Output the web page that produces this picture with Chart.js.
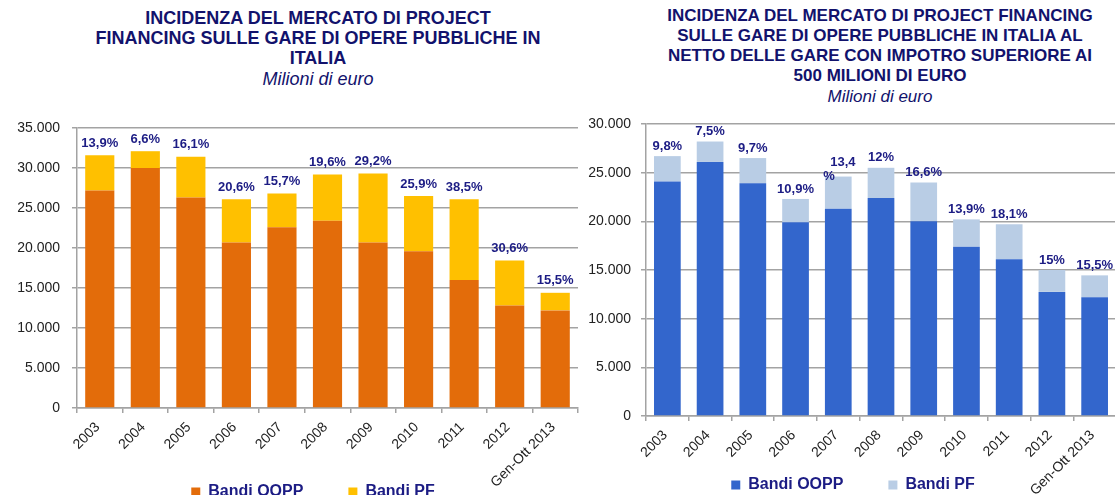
<!DOCTYPE html>
<html>
<head>
<meta charset="utf-8">
<script src="https://cdn.jsdelivr.net/npm/chart.js@4.4.1/dist/chart.umd.min.js"></script>
<style>
  html, body { margin: 0; padding: 0; background: #fff; }
  body { position: relative; width: 1115px; height: 495px; overflow: hidden; font-family: "Liberation Sans", Arial, sans-serif; }
  canvas { position: absolute; top: 100px; }
  .title { position: absolute; text-align: center; color: #12126c; font-weight: bold; line-height: 20px; }
  .title .sub { font-weight: normal; font-style: italic; line-height: 22px; }
</style>
</head>
<body>
<div class="title" style="left:38px; top:8px; width:560px; font-size:18px;">
  <div>INCIDENZA DEL MERCATO DI PROJECT</div>
  <div>FINANCING SULLE GARE DI OPERE PUBBLICHE IN</div>
  <div>ITALIA</div>
  <div class="sub" style="font-size:18px;">Milioni di euro</div>
</div>
<div class="title" style="left:630px; top:6px; width:500px; font-size:17px;">
  <div>INCIDENZA DEL MERCATO DI PROJECT FINANCING</div>
  <div>SULLE GARE DI OPERE PUBBLICHE IN ITALIA AL</div>
  <div>NETTO DELLE GARE CON IMPOTRO SUPERIORE AI</div>
  <div>500 MILIONI DI EURO</div>
  <div class="sub" style="font-size:17px;">Milioni di euro</div>
</div>
<canvas id="left" width="626" height="470" style="left:0px"></canvas>
<canvas id="right" width="554" height="470" style="left:576px"></canvas>
<script>
const years = ['2003', '2004', '2005', '2006', '2007', '2008', '2009', '2010', '2011', '2012', 'Gen-Ott 2013'];

// tutte le gare
const oppItalia = [27200, 30000, 26300, 20700, 22600, 23400, 20700, 19600, 16000, 12800, 12200];
const pfItalia = [4400, 2100, 5100, 5400, 4200, 5800, 8600, 6900, 10100, 5650, 2200];
const pctItalia = ['13,9%', '6,6%', '16,1%', '20,6%', '15,7%', '19,6%', '29,2%', '25,9%', '38,5%', '30,6%', '15,5%'];

// al netto delle gare > 500 mln
const oppNetto = [24100, 26100, 23900, 19900, 21300, 22400, 20000, 17400, 16100, 12750, 12200];
const pfNetto = [2600, 2100, 2600, 2400, 3300, 3100, 4000, 2800, 3600, 2250, 2250];
const pctNetto = ['9,8%', '7,5%', '9,7%', '10,9%', '13,4\n%', '12%', '16,6%', '13,9%', '18,1%', '15%', '15,5%'];

const FONT = '"Liberation Sans", Arial, sans-serif';
const NAVY = '#1c1c84';
const GRID = '#a3a3a3';

const fmt = v => String(v).replace(/\B(?=(\d{3})+(?!\d))/g, '.');

const pctLabels = {
  id: 'pctLabels',
  // the legend sits over the rotated year labels, as in the original
  afterLayout(chart, args, opts) {
    const lg = chart.legend;
    lg.left += opts.legendShift;
    lg.right += opts.legendShift;
    lg.top = opts.legendTop;
    lg.bottom = lg.top + lg.height;
  },
  afterDatasetsDraw(chart, args, opts) {
    const ctx = chart.ctx;
    const meta = chart.getDatasetMeta(chart.data.datasets.length - 1);
    ctx.save();
    ctx.font = 'bold 13px ' + FONT;
    ctx.fillStyle = NAVY;
    ctx.textBaseline = 'middle';
    meta.data.forEach((bar, i) => {
      const lines = opts.labels[i].split('\n');
      const n = lines.length;
      lines.forEach((txt, k) => {
        const y = bar.y - opts.gap - (n - 1 - k) * 14 + (n - 1) * opts.gap;
        if (n > 1) {
          // wrapped label, as in the source sheet
          ctx.textAlign = 'left';
          ctx.fillText(txt, bar.x - (k === 0 ? 8 : 15), y);
        } else {
          ctx.textAlign = 'center';
          ctx.fillText(txt, bar.x, y);
        }
      });
    });
    ctx.restore();
  }
};

function makeChart(id, cfg) {
  return new Chart(document.getElementById(id), {
    type: 'bar',
    data: {
      labels: years,
      datasets: [
        { label: 'Bandi OOPP', data: cfg.opp, backgroundColor: cfg.colors[0], barPercentage: cfg.barPct, categoryPercentage: 1 },
        { label: 'Bandi PF', data: cfg.pf, backgroundColor: cfg.colors[1], barPercentage: cfg.barPct, categoryPercentage: 1 }
      ]
    },
    options: {
      responsive: false,
      animation: false,
      layout: { padding: cfg.padding },
      scales: {
        x: {
          stacked: true,
          grid: { drawOnChartArea: false, color: GRID, lineWidth: 1.5, tickLength: 5 },
          border: { color: GRID, width: 1.5 },
          ticks: { maxRotation: 45, minRotation: 45, autoSkip: false, padding: 6, labelOffset: -2, color: '#222', font: { family: FONT, size: 14 } },
          afterFit: s => { s.height = cfg.xHeight; }
        },
        y: {
          stacked: true,
          min: 0,
          max: cfg.max,
          ticks: { stepSize: 5000, padding: cfg.tickPad, color: '#222', font: { family: FONT, size: 14 }, callback: v => fmt(v) },
          grid: { color: GRID, lineWidth: 1.5, tickLength: 5 },
          border: { color: GRID, width: 1.5 },
          afterFit: s => { s.width = cfg.yWidth; }
        }
      },
      plugins: {
        legend: {
          position: 'bottom',
          labels: { boxWidth: 9, boxHeight: 9, padding: 45, color: NAVY, font: { family: FONT, size: 16, weight: 'bold' } }
        },
        tooltip: { enabled: false },
        pctLabels: { labels: cfg.pct, gap: cfg.gap, legendShift: cfg.legendShift, legendTop: cfg.legendTop }
      }
    },
    plugins: [pctLabels]
  });
}

makeChart('left', {
  opp: oppItalia, pf: pfItalia, pct: pctItalia,
  colors: ['#e36c0a', '#ffc000'],
  max: 35000, barPct: 0.64, gap: 12,
  padding: { top: 28, left: 0, right: 48, bottom: 0 },
  yWidth: 77, xHeight: 91, tickPad: 12,
  legendShift: 24, legendTop: 339
});

makeChart('right', {
  opp: oppNetto, pf: pfNetto, pct: pctNetto,
  colors: ['#3366cc', '#b9cde5'],
  max: 30000, barPct: 0.625, gap: 10,
  padding: { top: 24, left: 0, right: 14, bottom: 0 },
  yWidth: 70, xHeight: 83, tickPad: 10,
  legendShift: 7, legendTop: 332
});
</script>
</body>
</html>
